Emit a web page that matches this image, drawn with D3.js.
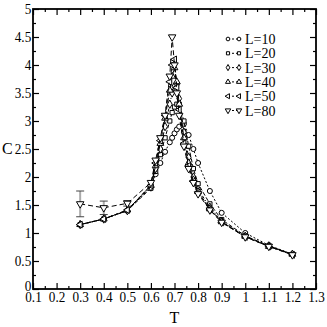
<!DOCTYPE html>
<html>
<head>
<meta charset="utf-8">
<script src="https://cdn.jsdelivr.net/npm/d3@7"></script>
<style>
  body { margin: 0; background: #fff; }
  text { font-family: "Liberation Serif", "Times New Roman", serif; fill: #000; }
</style>
</head>
<body>
<div id="chart"></div>
<script>
// temperatures shared by every lattice size
var temps = [0.3, 0.4, 0.5, 0.6, 0.62, 0.64, 0.66, 0.68, 0.69, 0.7, 0.71, 0.72, 0.74, 0.76, 0.78, 0.8, 0.85, 0.9, 1.0, 1.1, 1.2];

// specific heat for each L
var cL10 = [1.15, 1.25, 1.40, 1.85, 2.05, 2.25, 2.45, 2.62, 2.70, 2.78, 2.85, 2.90, 2.95, 2.75, 2.50, 2.25, 1.75, 1.36, 1.00, 0.78, 0.62];
var cL20 = [1.15, 1.25, 1.40, 1.80, 2.10, 2.40, 2.70, 3.00, 3.15, 3.25, 3.30, 3.30, 3.00, 2.55, 2.15, 1.88, 1.52, 1.24, 0.95, 0.77, 0.62];
var cL30 = [1.15, 1.25, 1.40, 1.82, 2.15, 2.50, 2.90, 3.30, 3.50, 3.62, 3.65, 3.40, 2.80, 2.35, 2.00, 1.78, 1.46, 1.21, 0.94, 0.77, 0.62];
var cL40 = [1.15, 1.25, 1.41, 1.85, 2.20, 2.60, 3.05, 3.55, 3.80, 3.95, 3.70, 3.30, 2.70, 2.25, 1.95, 1.74, 1.43, 1.20, 0.94, 0.76, 0.62];
var cL50 = [1.15, 1.25, 1.41, 1.85, 2.25, 2.65, 3.10, 3.70, 4.00, 4.10, 3.60, 3.20, 2.60, 2.20, 1.92, 1.72, 1.42, 1.19, 0.93, 0.76, 0.61];
var cL80 = [1.52, 1.45, 1.53, 1.90, 2.30, 2.70, 3.10, 3.80, 4.50, 4.00, 3.50, 3.10, 2.55, 2.15, 1.90, 1.70, 1.41, 1.19, 0.93, 0.76, 0.61];
// error bars, only the L=80 low temperature points have them
var errL80 = [0.23, 0.12, 0.05, 0, 0, 0, 0, 0, 0, 0, 0, 0, 0, 0, 0, 0, 0, 0, 0, 0, 0];

var seriesNames = ["L=10", "L=20", "L=30", "L=40", "L=50", "L=80"];
var seriesValues = [cL10, cL20, cL30, cL40, cL50, cL80];

var xTicks = [0.1, 0.2, 0.3, 0.4, 0.5, 0.6, 0.7, 0.8, 0.9, 1, 1.1, 1.2, 1.3];
var yTicks = [0, 0.5, 1, 1.5, 2, 2.5, 3, 3.5, 4, 4.5, 5];

var svgWidth = 327, svgHeight = 327;
var margin = { top: 9, right: 11, bottom: 38, left: 33 };
var width = svgWidth - margin.left - margin.right;
var height = svgHeight - margin.top - margin.bottom;

var svg = d3.select("#chart").append("svg")
    .attr("width", svgWidth)
    .attr("height", svgHeight);

var chartGroup = svg.append("g")
    .attr("transform", `translate(${margin.left}, ${margin.top})`);

var xScale = d3.scaleLinear().domain([0.1, 1.3]).range([0, width]);
var yScale = d3.scaleLinear().domain([0, 5]).range([height, 0]);

// minor ticks every half step
var xMinor = d3.range(0.15, 1.3, 0.1);
var yMinor = d3.range(0.25, 5, 0.5);

function tickGroup(axis, transform) {
    var g = chartGroup.append("g").attr("transform", transform).call(axis);
    g.select(".domain").remove();
    g.selectAll("line").attr("stroke", "#000").attr("stroke-width", 1.2);
    return g;
}

// major & minor ticks on all four sides, pointing inward
tickGroup(d3.axisBottom(xScale).tickValues(xTicks).tickSize(-6).tickFormat(d3.format("")), `translate(0,${height})`)
    .selectAll("text")
    .attr("y", 2)
    .attr("dy", "0.71em")
    .attr("transform", "scale(0.88,1)")
    .style("font-size", "15px");
tickGroup(d3.axisBottom(xScale).tickValues(xMinor).tickSize(-3).tickFormat(""), `translate(0,${height})`);
tickGroup(d3.axisTop(xScale).tickValues(xTicks).tickSize(-6).tickFormat(""), "translate(0,0)");
tickGroup(d3.axisTop(xScale).tickValues(xMinor).tickSize(-3).tickFormat(""), "translate(0,0)");

tickGroup(d3.axisLeft(yScale).tickValues(yTicks).tickSize(-6).tickFormat(d3.format("")), "translate(0,0)")
    .selectAll("text")
    .attr("x", -2)
    .attr("y", d => d === 0 ? -3 : 0)   // lift the "0" off the x labels
    .attr("transform", "scale(0.88,1)")
    .style("font-size", "15px");
tickGroup(d3.axisLeft(yScale).tickValues(yMinor).tickSize(-3).tickFormat(""), "translate(0,0)");
tickGroup(d3.axisRight(yScale).tickValues(yTicks).tickSize(-6).tickFormat(""), `translate(${width},0)`);
tickGroup(d3.axisRight(yScale).tickValues(yMinor).tickSize(-3).tickFormat(""), `translate(${width},0)`);

// frame
chartGroup.append("rect")
    .attr("width", width)
    .attr("height", height)
    .attr("fill", "none")
    .attr("stroke", "#000")
    .attr("stroke-width", 1.8);

// axis labels
svg.append("text")
    .attr("x", 2)
    .attr("y", margin.top + yScale(2.5) + 5)
    .style("font-size", "16px")
    .text("C");

svg.append("text")
    .attr("x", margin.left + width / 2)
    .attr("y", 323)
    .attr("text-anchor", "middle")
    .style("font-size", "16px")
    .text("T");

// marker shapes for each L
var shapes = [
    { type: d3.symbolCircle, size: 20, rot: 0 },
    { type: d3.symbolSquare, size: 18, rot: 0 },
    { type: d3.symbolDiamond, size: 20, rot: 0 },
    { type: d3.symbolTriangle, size: 20, rot: 0 },
    { type: d3.symbolTriangle, size: 20, rot: -90 },
    { type: d3.symbolTriangle, size: 24, rot: 180 }
];
var dashes = ["2,2", "4,2", "3,2,1,2", "5,2", "3,3", "5,3"];

var line = d3.line()
    .x(d => xScale(d.t))
    .y(d => yScale(d.c));

// error bars for L=80
var errData = temps.map((t, i) => ({ t: t, c: cL80[i], e: errL80[i] })).filter(d => d.e > 0);
var errGroup = chartGroup.append("g");
errGroup.selectAll("line.bar")
    .data(errData)
    .enter()
    .append("line")
    .attr("x1", d => xScale(d.t))
    .attr("x2", d => xScale(d.t))
    .attr("y1", d => yScale(d.c - d.e))
    .attr("y2", d => yScale(d.c + d.e))
    .attr("stroke", "#aaa")
    .attr("stroke-width", 2);
[-1, 1].forEach(function(sign) {
    errGroup.selectAll("line.cap" + sign)
        .data(errData)
        .enter()
        .append("line")
        .attr("x1", d => xScale(d.t) - 4)
        .attr("x2", d => xScale(d.t) + 4)
        .attr("y1", d => yScale(d.c + sign * d.e))
        .attr("y2", d => yScale(d.c + sign * d.e))
        .attr("stroke", "#444")
        .attr("stroke-width", 1);
});

seriesValues.forEach(function(vals, i) {
    var pts = temps.map((t, j) => ({ t: t, c: vals[j] }));

    chartGroup.append("path")
        .datum(pts)
        .attr("d", line)
        .attr("fill", "none")
        .attr("stroke", "#000")
        .attr("stroke-width", 1)
        .attr("stroke-dasharray", dashes[i]);

    var sym = d3.symbol().type(shapes[i].type).size(shapes[i].size);
    chartGroup.selectAll("path.m" + i)
        .data(pts)
        .enter()
        .append("path")
        .attr("class", "m" + i)
        .attr("d", sym)
        .attr("transform", d => `translate(${xScale(d.t)},${yScale(d.c)}) rotate(${shapes[i].rot})`)
        .attr("fill", "#fff")
        .attr("stroke", "#000")
        .attr("stroke-width", 1);
});

// legend
var legend = svg.append("g").attr("transform", "translate(228,39)");
seriesNames.forEach(function(name, i) {
    var row = legend.append("g").attr("transform", `translate(0, ${i * 14.3})`);
    row.append("line")
        .attr("x1", 0).attr("x2", 11)
        .attr("stroke", "#000")
        .attr("stroke-width", 1)
        .attr("stroke-dasharray", "2,2");
    var sym = d3.symbol().type(shapes[i].type).size(shapes[i].size * 0.55);
    [0, 11].forEach(function(x) {
        row.append("path")
            .attr("d", sym)
            .attr("transform", `translate(${x},0) rotate(${shapes[i].rot})`)
            .attr("fill", "#fff")
            .attr("stroke", "#000")
            .attr("stroke-width", 1);
    });
    row.append("text")
        .attr("x", 17)
        .attr("y", 5)
        .style("font-size", "14px")
        .text(name);
});
</script>
</body>
</html>
